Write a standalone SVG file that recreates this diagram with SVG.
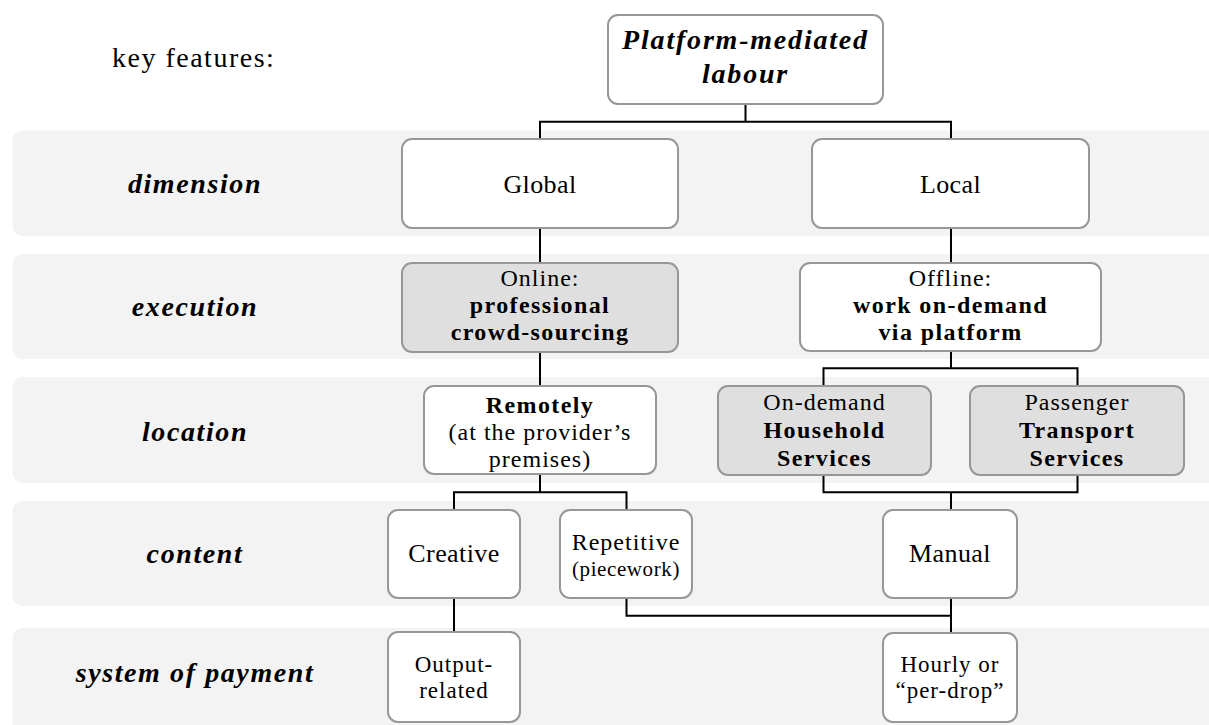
<svg xmlns="http://www.w3.org/2000/svg" width="1209" height="725" viewBox="0 0 1209 725">
  <style>
    .band { fill: #f3f3f3; }
    .box { fill: #ffffff; stroke: #979797; stroke-width: 2; }
    .box.shade { fill: #dfdfdf; }
    .wire { fill: none; stroke: #000000; stroke-width: 2; }
    text { font-family: "Liberation Serif", "Times New Roman", serif; fill: #000000; text-anchor: middle; }
    .t { font-size: 26px; letter-spacing: 0.4px; }
    .m { font-size: 24px; letter-spacing: 1px; }
    .mb { font-size: 24px; font-weight: bold; letter-spacing: 1.4px; }
    .s { font-size: 23px; letter-spacing: 1px; }
    .small { font-size: 21px; letter-spacing: 0.6px; }
    .label { font-size: 28px; font-weight: bold; font-style: italic; letter-spacing: 1.6px; }
    .head { font-size: 28px; font-weight: bold; font-style: italic; letter-spacing: 1.8px; }
    .intro { font-size: 28px; letter-spacing: 1.5px; text-anchor: start; }
  </style>

  <!-- row bands -->
  <g id="bands">
    <rect class="band" x="12.5" y="130.5" width="1220" height="105.5" rx="10"/>
    <rect class="band" x="12.5" y="254" width="1220" height="105" rx="10"/>
    <rect class="band" x="12.5" y="377" width="1220" height="106" rx="10"/>
    <rect class="band" x="12.5" y="501" width="1220" height="105" rx="10"/>
    <rect class="band" x="12.5" y="628" width="1220" height="120" rx="10"/>
  </g>

  <!-- row labels -->
  <g id="labels">
    <text class="intro" x="112" y="67">key features:</text>
    <text class="label" x="195" y="193">dimension</text>
    <text class="label" x="195" y="316">execution</text>
    <text class="label" x="195" y="441">location</text>
    <text class="label" x="195" y="563">content</text>
    <text class="label" x="195" y="682">system of payment</text>
  </g>

  <!-- connectors -->
  <g id="connectors">
    <path class="wire" d="M745.5 104 V121.7 M540 139 V121.7 H951 V139"/>
    <path class="wire" d="M540 228 V263"/>
    <path class="wire" d="M951 228 V263"/>
    <path class="wire" d="M540 352 V386"/>
    <path class="wire" d="M951 351 V368.3 M823.5 386 V368.3 H1077.5 V386"/>
    <path class="wire" d="M540 474 V492.3 M454 510 V492.3 H626.5 V510"/>
    <path class="wire" d="M823.5 475 V492.3 H1077.5 V475 M951 492.3 V510"/>
    <path class="wire" d="M454 598 V632"/>
    <path class="wire" d="M626.5 598 V615.7 H951 M951 598 V633"/>
  </g>

  <g id="root">
    <rect class="box" x="608" y="15" width="275" height="89" rx="10"/>
    <text class="head" x="745.5" y="49">Platform-mediated</text>
    <text class="head" x="745.5" y="83">labour</text>
  </g>

  <g id="global">
    <rect class="box" x="402" y="139" width="276" height="89" rx="10"/>
    <text class="t" x="540" y="193">Global</text>
  </g>

  <g id="local">
    <rect class="box" x="812" y="139" width="277" height="89" rx="10"/>
    <text class="t" x="950.5" y="193">Local</text>
  </g>

  <g id="online">
    <rect class="box shade" x="402" y="263" width="276" height="89" rx="10"/>
    <text class="m" x="540" y="286">Online:</text>
    <text class="mb" x="540" y="313">professional</text>
    <text class="mb" x="540" y="340">crowd-sourcing</text>
  </g>

  <g id="offline">
    <rect class="box" x="800" y="263" width="301" height="88" rx="10"/>
    <text class="m" x="950.5" y="286">Offline:</text>
    <text class="mb" x="950.5" y="313">work on-demand</text>
    <text class="mb" x="950.5" y="340">via platform</text>
  </g>

  <g id="remotely">
    <rect class="box" x="424" y="386" width="232" height="88" rx="10"/>
    <text class="mb" x="540" y="413">Remotely</text>
    <text class="m" x="540" y="440">(at the provider’s</text>
    <text class="m" x="540" y="467">premises)</text>
  </g>

  <g id="household">
    <rect class="box shade" x="718" y="386" width="213" height="89" rx="10"/>
    <text class="m" x="824.5" y="410">On-demand</text>
    <text class="mb" x="824.5" y="438">Household</text>
    <text class="mb" x="824.5" y="466">Services</text>
  </g>

  <g id="transport">
    <rect class="box shade" x="970" y="386" width="214" height="89" rx="10"/>
    <text class="m" x="1077" y="410">Passenger</text>
    <text class="mb" x="1077" y="438">Transport</text>
    <text class="mb" x="1077" y="466">Services</text>
  </g>

  <g id="creative">
    <rect class="box" x="388" y="510" width="132" height="88" rx="10"/>
    <text class="t" x="454" y="562">Creative</text>
  </g>

  <g id="repetitive">
    <rect class="box" x="560" y="510" width="132" height="88" rx="10"/>
    <text class="m" x="626" y="550">Repetitive</text>
    <text class="small" x="626" y="576">(piecework)</text>
  </g>

  <g id="manual">
    <rect class="box" x="883" y="510" width="134" height="88" rx="10"/>
    <text class="t" x="950" y="562">Manual</text>
  </g>

  <g id="output-related">
    <rect class="box" x="388" y="632" width="132" height="90" rx="10"/>
    <text class="s" x="454" y="672">Output-</text>
    <text class="s" x="454" y="698">related</text>
  </g>

  <g id="hourly">
    <rect class="box" x="883" y="633" width="134" height="89" rx="10"/>
    <text class="s" x="950" y="672">Hourly or</text>
    <text class="s" x="950" y="698">“per-drop”</text>
  </g>
</svg>
